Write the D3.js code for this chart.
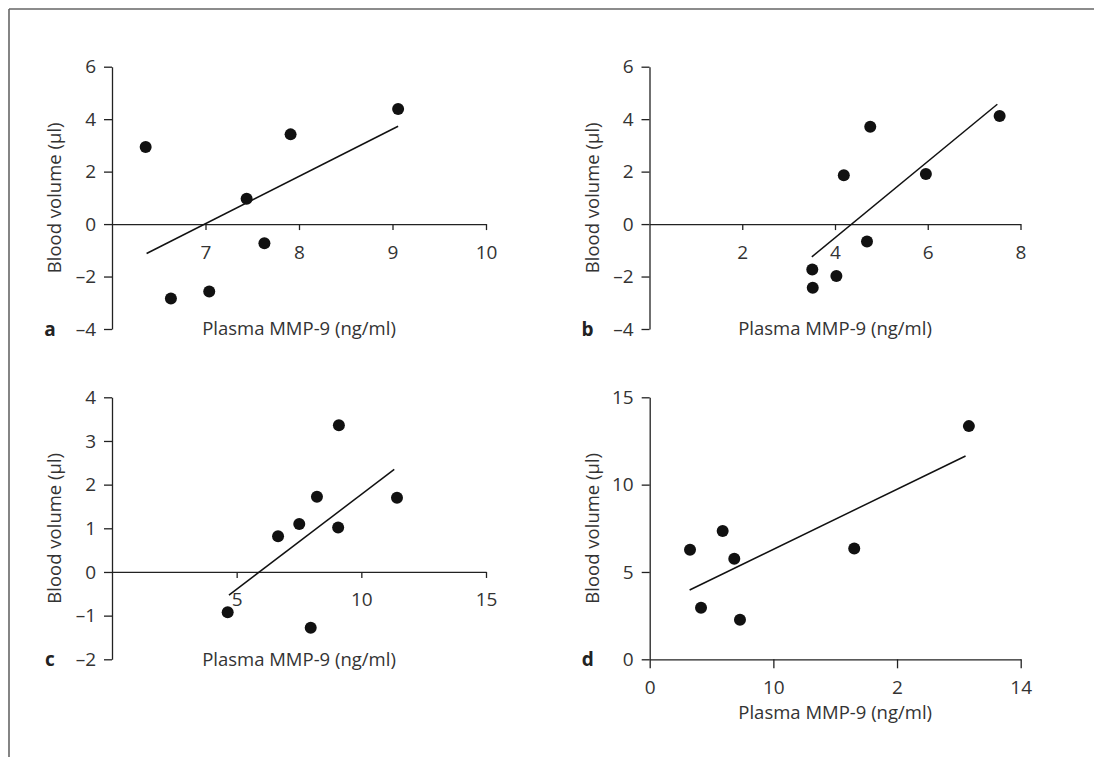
<!DOCTYPE html>
<html>
<head>
  <meta charset="utf-8">
  <title>Blood volume vs plasma MMP-9</title>
  <script src="https://d3js.org/d3.v7.min.js"></script>
  <style>
    body { margin: 0; background: #fff; }
    text {
      font-family: "Open Sans", "Noto Sans", sans-serif;
      fill: #333;
    }
    .axis text { font-size: 19px; }
    .axis path, .axis line { stroke: #222; stroke-width: 1.3px; }
    .fit { stroke: #111; stroke-width: 1.5px; }
    .dot { fill: #111; }
    .panel-letter { font-weight: bold; font-size: 19px; fill: #222; }
    .label { font-size: 18.5px; }
  </style>
</head>
<body>
  <svg width="1094" height="757"></svg>
  <script>
    // Panel a
    const aX = [6.36, 6.63, 7.04, 7.44, 7.63, 7.91, 9.06];
    const aY = [2.94, -2.84, -2.57, 0.97, -0.73, 3.42, 4.39];
    const aFit = [[6.37, -1.12], [9.06, 3.73]];
    const aXTicks = [7, 8, 9, 10];
    const aYTicks = [-4, -2, 0, 2, 4, 6];

    // Panel b
    const bX = [4.19, 4.76, 3.51, 3.52, 4.03, 4.69, 5.96, 7.55];
    const bY = [1.86, 3.71, -1.73, -2.43, -1.98, -0.66, 1.91, 4.12];
    const bFit = [[3.50, -1.25], [7.50, 4.57]];
    const bXTicks = [2, 4, 6, 8];
    const bYTicks = [-4, -2, 0, 2, 4, 6];

    // Panel c
    const cX = [4.64, 6.66, 7.51, 8.22, 7.97, 9.07, 9.10, 11.43];
    const cY = [-0.92, 0.82, 1.10, 1.72, -1.28, 1.02, 3.36, 1.70];
    const cFit = [[4.69, -0.53], [11.32, 2.35]];
    const cXTicks = [5, 10, 15];
    const cYTicks = [-2, -1, 0, 1, 2, 3, 4];

    // Panel d (tick labels as printed in the original)
    const dX = [3.26, 4.15, 5.90, 6.84, 7.30, 16.54, 25.81];
    const dY = [6.27, 2.95, 7.34, 5.76, 2.27, 6.34, 13.35];
    const dFit = [[3.23, 3.97], [25.54, 11.64]];
    const dXTicks = [0, 10, 20, 30];
    const dXTickLabels = ["0", "10", "2", "14"];
    const dYTicks = [0, 5, 10, 15];

    const xTitle = "Plasma MMP-9 (ng/ml)";
    const yTitle = "Blood volume (\u00b5l)";

    const svg = d3.select("svg");

    // en dash for negatives, like the printed figure
    const fmt = d => d < 0 ? "\u2013" + Math.abs(d) : String(d);

    // Frame: top and left rule only
    svg.append("line").attr("x1", 9).attr("y1", 9).attr("x2", 1094).attr("y2", 9)
      .attr("stroke", "#666").attr("stroke-width", 1.6);
    svg.append("line").attr("x1", 9).attr("y1", 9).attr("x2", 9).attr("y2", 757)
      .attr("stroke", "#666").attr("stroke-width", 1.6);

    const panels = [
      { letter: "a", xs: aX, ys: aY, fit: aFit, xTicks: aXTicks, yTicks: aYTicks,
        xDom: [6, 10], yDom: [-4, 6], left: 112, right: 486, top: 66.7, bottom: 329, xTick: 6 },
      { letter: "b", xs: bX, ys: bY, fit: bFit, xTicks: bXTicks, yTicks: bYTicks,
        xDom: [0, 8], yDom: [-4, 6], left: 649.5, right: 1020.5, top: 66.7, bottom: 329, xTick: 6 },
      { letter: "c", xs: cX, ys: cY, fit: cFit, xTicks: cXTicks, yTicks: cYTicks,
        xDom: [0, 15], yDom: [-2, 4], left: 112, right: 486, top: 397.3, bottom: 659.3, xTick: 6 },
      { letter: "d", xs: dX, ys: dY, fit: dFit, xTicks: dXTicks, yTicks: dYTicks, xLabels: dXTickLabels,
        xDom: [0, 30], yDom: [0, 15], left: 649.7, right: 1020.7, top: 397.3, bottom: 659.3, xTick: 9 }
    ];

    panels.forEach(p => {
      const x = d3.scaleLinear().domain(p.xDom).range([p.left, p.right]);
      const y = d3.scaleLinear().domain(p.yDom).range([p.bottom, p.top]);
      const g = svg.append("g");

      // y axis
      g.append("g")
        .attr("class", "axis")
        .attr("transform", `translate(${p.left},0)`)
        .call(d3.axisLeft(y).tickValues(p.yTicks).tickSize(8).tickSizeOuter(0).tickPadding(8)
          .tickFormat(fmt));

      // x axis sits on y = 0
      const xAxis = d3.axisBottom(x).tickValues(p.xTicks).tickSize(p.xTick).tickSizeOuter(0)
        .tickPadding(21 - p.xTick)
        .tickFormat(p.xLabels ? (d, i) => p.xLabels[i] : fmt);
      g.append("g")
        .attr("class", "axis")
        .attr("transform", `translate(0,${y(0)})`)
        .call(xAxis);

      // regression line
      g.append("line")
        .attr("class", "fit")
        .attr("x1", x(p.fit[0][0])).attr("y1", y(p.fit[0][1]))
        .attr("x2", x(p.fit[1][0])).attr("y2", y(p.fit[1][1]));

      // points
      g.selectAll("circle")
        .data(p.xs.map((v, i) => [v, p.ys[i]]))
        .enter()
        .append("circle")
        .attr("class", "dot")
        .attr("cx", d => x(d[0]))
        .attr("cy", d => y(d[1]))
        .attr("r", 6);

      // titles
      const xTitleY = p.letter === "d" ? p.bottom + 53 : p.bottom;
      g.append("text")
        .attr("class", "label")
        .attr("x", (p.left + p.right) / 2)
        .attr("y", xTitleY)
        .attr("dy", "0.35em")
        .attr("text-anchor", "middle")
        .text(xTitle);

      g.append("text")
        .attr("class", "label")
        .attr("transform", `translate(${p.left - 57},${(p.top + p.bottom) / 2}) rotate(-90)`)
        .attr("dy", "0.35em")
        .attr("text-anchor", "middle")
        .text(yTitle);

      g.append("text")
        .attr("class", "panel-letter")
        .attr("x", p.left - 62)
        .attr("y", p.bottom)
        .attr("dy", "0.35em")
        .attr("text-anchor", "middle")
        .text(p.letter);
    });
  </script>
</body>
</html>
